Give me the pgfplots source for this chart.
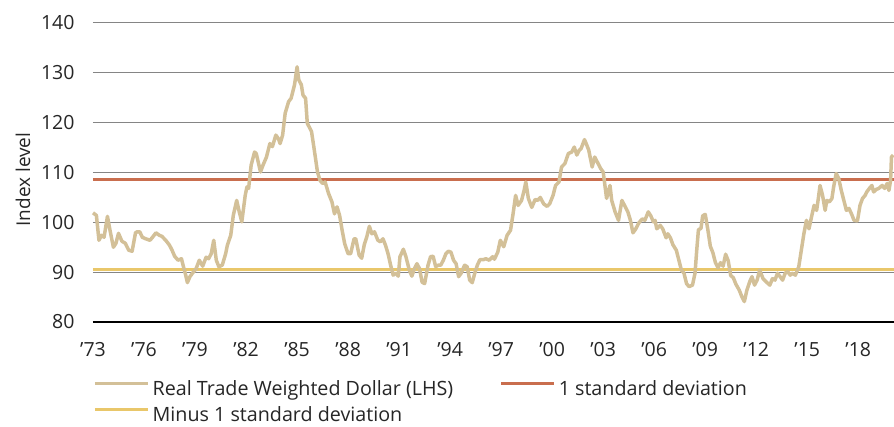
\documentclass[border=0pt]{standalone}
\usepackage{fontspec}
\setmainfont{Open Sans}
\usepackage{pgfplots}
\usetikzlibrary{calc}
\pgfplotsset{compat=1.18}
\definecolor{tanline}{HTML}{D3C098}
\definecolor{sdred}{HTML}{C96E4E}
\definecolor{sdyel}{HTML}{E9C76A}
\definecolor{gridc}{HTML}{858585}
\pgfplotstableread{
year val
1973.0 101.9
1973.2 101.4
1973.35 96.4
1973.5 97.4
1973.65 97.0
1973.85 101.2
1974.0 98.4
1974.2 95.0
1974.35 95.8
1974.5 97.8
1974.7 96.2
1974.9 95.8
1975.1 94.4
1975.3 94.2
1975.5 97.9
1975.6 98.1
1975.75 98.1
1975.9 97.0
1976.1 96.7
1976.35 96.4
1976.5 97.0
1976.7 97.9
1976.9 97.4
1977.05 97.2
1977.3 96.3
1977.5 95.4
1977.65 94.4
1977.8 93.2
1978.0 92.4
1978.2 92.7
1978.35 90.7
1978.45 89.4
1978.55 87.9
1978.7 89.1
1978.85 89.8
1979.05 90.6
1979.25 92.4
1979.45 91.2
1979.65 93.0
1979.8 92.7
1979.95 93.7
1980.1 96.4
1980.25 92.4
1980.4 91.1
1980.6 91.4
1980.8 93.7
1980.9 95.4
1981.1 97.4
1981.25 101.4
1981.45 104.4
1981.6 102.1
1981.75 100.1
1981.95 105.4
1982.05 107.1
1982.15 106.8
1982.3 111.5
1982.5 114.1
1982.6 113.8
1982.85 110.1
1983.0 111.5
1983.2 113.1
1983.4 115.8
1983.55 115.2
1983.75 117.5
1983.9 116.8
1984.0 115.8
1984.15 117.5
1984.3 121.9
1984.5 124.2
1984.65 124.9
1984.85 127.6
1985.0 131.2
1985.1 128.6
1985.25 127.6
1985.35 125.5
1985.5 124.9
1985.6 119.9
1985.85 118.2
1986.0 114.8
1986.2 110.1
1986.35 108.4
1986.5 107.8
1986.65 108.1
1986.85 105.8
1987.05 104.1
1987.2 101.7
1987.35 103.1
1987.5 101.4
1987.65 98.4
1987.8 95.7
1988.0 93.7
1988.15 93.7
1988.35 96.7
1988.45 96.7
1988.65 93.4
1988.8 92.8
1988.95 95.5
1989.1 97.1
1989.25 99.2
1989.4 97.7
1989.55 98.1
1989.75 96.4
1989.9 96.1
1990.05 96.7
1990.2 95.4
1990.35 93.7
1990.5 91.4
1990.65 89.4
1990.8 89.8
1990.95 89.2
1991.05 93.1
1991.25 94.6
1991.4 93.1
1991.6 90.4
1991.75 89.2
1991.9 90.7
1992.05 91.7
1992.2 90.7
1992.35 88.0
1992.5 87.7
1992.7 91.4
1992.85 93.1
1993.0 93.2
1993.15 91.1
1993.3 91.4
1993.45 91.4
1993.6 92.4
1993.75 93.7
1993.9 94.2
1994.05 94.0
1994.2 92.4
1994.35 91.7
1994.5 89.1
1994.65 89.8
1994.85 91.4
1995.0 91.1
1995.15 88.4
1995.3 87.9
1995.45 89.8
1995.6 91.4
1995.75 92.5
1995.95 92.5
1996.1 92.7
1996.3 92.4
1996.5 93.1
1996.6 92.6
1996.8 94.0
1996.95 96.4
1997.15 95.1
1997.35 97.4
1997.55 98.4
1997.7 101.7
1997.85 105.4
1998.0 103.4
1998.2 104.4
1998.35 106.4
1998.45 108.1
1998.6 104.8
1998.8 103.0
1999.0 104.6
1999.15 104.4
1999.3 105.0
1999.5 103.7
1999.7 103.2
1999.85 103.7
2000.05 105.4
2000.2 107.4
2000.4 108.1
2000.55 111.1
2000.75 111.8
2000.95 113.8
2001.15 114.1
2001.3 115.1
2001.45 113.5
2001.6 114.5
2001.7 114.8
2001.9 116.6
2002.0 115.8
2002.15 114.5
2002.35 111.1
2002.5 113.1
2002.7 111.8
2002.85 110.8
2003.0 110.1
2003.2 104.8
2003.4 107.4
2003.5 104.4
2003.7 102.1
2003.9 100.4
2004.1 104.4
2004.3 103.1
2004.45 102.1
2004.6 100.4
2004.75 97.9
2004.9 98.6
2005.1 99.9
2005.3 100.7
2005.45 100.4
2005.65 102.1
2005.8 101.3
2005.95 100.1
2006.05 100.4
2006.15 98.7
2006.35 99.4
2006.5 98.7
2006.7 96.9
2006.8 97.7
2006.95 96.9
2007.1 95.5
2007.3 94.4
2007.45 92.4
2007.6 90.4
2007.75 89.8
2007.9 87.7
2008.05 87.1
2008.25 87.4
2008.4 89.8
2008.5 94.4
2008.6 98.5
2008.75 98.8
2008.85 101.3
2009.0 101.6
2009.15 98.6
2009.3 95.2
2009.45 93.9
2009.6 91.9
2009.75 90.9
2009.9 91.9
2010.05 91.2
2010.2 93.6
2010.35 92.3
2010.5 89.3
2010.65 88.9
2010.8 87.6
2011.0 86.4
2011.15 85.1
2011.3 84.1
2011.45 86.4
2011.65 88.4
2011.75 89.1
2011.9 87.4
2012.05 88.4
2012.2 90.4
2012.4 88.7
2012.6 88.0
2012.8 87.4
2012.95 88.7
2013.1 88.4
2013.25 89.8
2013.4 89.1
2013.55 88.4
2013.7 89.8
2013.85 90.1
2014.0 89.4
2014.1 89.8
2014.3 89.4
2014.5 91.1
2014.65 94.4
2014.8 97.7
2014.95 100.4
2015.1 98.7
2015.25 101.1
2015.4 103.4
2015.55 102.4
2015.65 104.8
2015.75 107.4
2015.9 105.4
2016.05 102.4
2016.15 104.4
2016.3 104.1
2016.45 104.8
2016.55 107.1
2016.7 109.8
2016.85 108.8
2017.0 106.4
2017.15 104.4
2017.3 102.4
2017.45 102.8
2017.6 101.7
2017.75 100.4
2017.95 100.3
2018.1 103.4
2018.25 104.8
2018.4 105.4
2018.5 106.1
2018.65 106.8
2018.8 107.4
2018.9 106.1
2019.05 106.6
2019.2 106.8
2019.4 107.4
2019.55 106.8
2019.7 107.8
2019.8 106.4
2019.9 108.4
2019.95 113.1
2020.05 113.5
}\dollar
\begin{document}
\begin{tikzpicture}
\begin{axis}[
  name=ax,
  scale only axis, width=801pt, height=299pt,
  xmin=1973, xmax=2020.1, ymin=80, ymax=140,
  axis x line*=bottom, axis y line*=left,
  y axis line style={draw=none},
  x axis line style={black, line width=2.4pt},
  tick style={draw=none},
  major tick length=0pt,
  ymajorgrids, grid style={gridc, line width=1pt},
  ytick={80,90,...,140},
  xtick={1973,1976,...,2018},
  xticklabels={'73,'76,'79,'82,'85,'88,'91,'94,'97,'00,'03,'06,'09,'12,'15,'18},
  /pgf/number format/assume math mode=true,
  ticklabel style={font=\fontsize{19.5}{22}\selectfont, text=black!85},
  yticklabel style={anchor=east, xshift=-15pt},
  xticklabel style={anchor=north, yshift=-17pt},
  ylabel={Index level},
  every axis y label/.style={at={(axis description cs:0,0.5)}, xshift=-70pt, yshift=-7pt, rotate=90, anchor=center, font=\fontsize{19}{22}\selectfont, text=black!85},
  legend style={at={(axis description cs:0,0)}, anchor=west, xshift=0pt, yshift=-80pt,
    draw=none, fill=none, inner sep=0pt, font=\fontsize{19.7}{23}\selectfont, text=black!85,
    row sep=10pt, nodes={inner xsep=3pt, inner ysep=0pt, text height=15pt, text depth=1pt},
    /tikz/every even column/.append style={column sep=43pt}},
  legend columns=2, legend cell align=left,
  legend image code/.code={\draw[#1] (0pt,5.5pt) -- (53pt,5.5pt);},
  clip=false,
]
\addlegendimage{tanline, line width=3.5pt}
\addlegendentry{Real Trade Weighted Dollar (LHS)}
\addlegendimage{sdred, line width=3.5pt}
\addlegendentry{1 standard deviation}
\addlegendimage{sdyel, line width=3.5pt}
\addlegendentry{Minus 1 standard deviation}
\addplot[forget plot, sdred, line width=3.5pt] coordinates {(1973,108.6) (2020.1,108.6)};
\addplot[forget plot, sdyel, line width=3.5pt] coordinates {(1973,90.5) (2020.1,90.5)};
\addplot[forget plot, tanline, line width=3.5pt, line join=round] table[x=year, y=val] {\dollar};
\end{axis}
\pgfresetboundingbox
\path ($(ax.south west)+(-93pt,-105pt)$) rectangle ($(ax.north east)+(0pt,23pt)$);
\end{tikzpicture}
\end{document}
